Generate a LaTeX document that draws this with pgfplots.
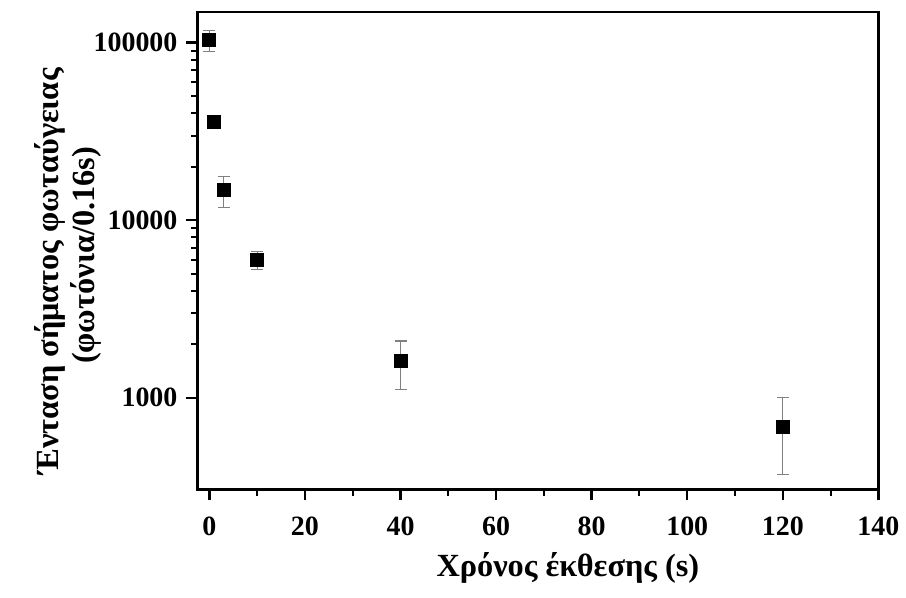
\documentclass[border=0pt]{standalone}
\usepackage{fontspec}
\setmainfont{Liberation Serif}
\usepackage{pgfplots}
\pgfplotsset{compat=1.18}
\usepackage{pgfplotstable}
\pgfplotstableread{
x y ep em
0 104000 13000 15000
1 35600 0 0
3 14800 2900 3000
10 5960 740 660
40 1610 480 500
120 687 313 318
}\datatab
\begin{document}
\begin{tikzpicture}
\begin{axis}[
  scale only axis,
  width=341.5pt, height=239.5pt,
  xmin=-2.5, xmax=140,
  ymode=log, ymin=304, ymax=149000,
  xtick={0,20,40,60,80,100,120,140},
  minor x tick num=1,
  ytick={1000,10000,100000},
  yticklabels={1000,10000,100000},
  xtick pos=left, ytick pos=left,
  tick align=outside,
  major tick length=5.5pt, minor tick length=3pt,
  axis line style={line width=1.2pt},
  every tick/.style={line width=1.2pt, black},
  every minor tick/.append style={line width=1.0pt},
  /pgf/number format/assume math mode=true,
  ticklabel style={font=\fontsize{14}{16}\selectfont\bfseries},
  xticklabel style={yshift=-4.5pt},
  yticklabel style={xshift=-1pt},
  xlabel={Χρόνος έκθεσης (s)},
  ylabel={Ένταση σήματος φωταύγειας\hspace*{16pt}\\[2pt](φωτόνια/0.16s)},
  label style={font=\fontsize{16.2}{16}\selectfont\bfseries},
  xlabel style={at={(axis description cs:0.544,-0.165)}, anchor=center},
  ylabel style={at={(axis description cs:-0.19,0.49)}, anchor=center, align=center},
]
\addplot[only marks, mark=square*, mark size=3.25pt, black,
  error bars/.cd, y dir=both, y explicit,
  error bar style={gray, line width=0.6pt},
  error mark options={rotate=90, mark size=3pt, gray, line width=0.6pt}]
  table[x=x, y=y, y error plus=ep, y error minus=em] {\datatab};
\end{axis}
\path (-99pt,-54pt) rectangle (354pt,245.5pt);
\end{tikzpicture}
\end{document}
